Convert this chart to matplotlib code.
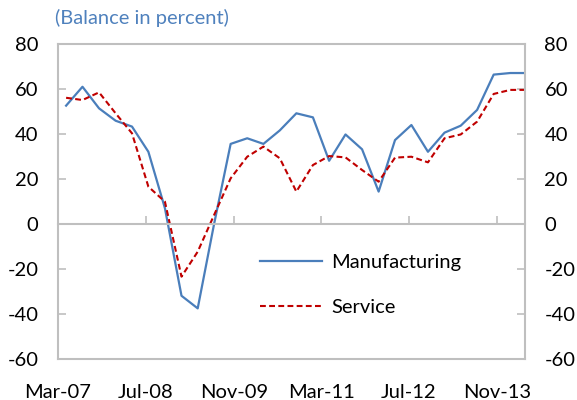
import numpy as np
import pandas as pd
import matplotlib as mpl
mpl.use('Agg')
import matplotlib.pyplot as plt
import matplotlib.dates as mdates

plt.rcParams['font.family'] = ['Lato', 'DejaVu Sans']
plt.rcParams['axes.unicode_minus'] = False

# quarterly survey balances, Mar-07 .. Mar-14
dates = pd.date_range('2007-03-15', periods=29, freq='3MS') + pd.Timedelta(days=14)
manufacturing = [52.6, 61.0, 51.4, 45.9, 43.3, 32.1, 7.0, -31.9, -37.5, 0.0,
                 35.6, 38.1, 35.6, 41.6, 49.2, 47.4, 28.1, 39.8, 33.2, 14.4,
                 37.3, 44.0, 32.1, 40.6, 43.7, 50.7, 66.4, 67.1, 67.1]
service = [56.1, 55.1, 58.5, 49.2, 40.3, 16.6, 9.9, -23.4, -12.3, 4.0,
           20.3, 29.9, 34.4, 29.2, 14.4, 26.2, 30.2, 29.6, 24.0, 18.8,
           29.5, 29.9, 27.4, 38.1, 39.8, 45.5, 57.8, 59.6, 59.6]

tick_dates = pd.to_datetime(['2007-03-01', '2008-07-01', '2009-11-01',
                             '2011-03-01', '2012-07-01', '2013-11-01'])
tick_labels = ['Mar-07', 'Jul-08', 'Nov-09', 'Mar-11', 'Jul-12', 'Nov-13']
yticks = [-60, -40, -20, 0, 20, 40, 60, 80]

grey = '#bfbfbf'
fs = 14.5

fig = plt.figure(figsize=(5.77, 4.0), dpi=100)
ax = fig.add_axes([58 / 577, 1 - 359 / 400, 467 / 577, 315 / 400])

xd = mdates.date2num(dates)
ax.plot(xd, manufacturing, color='#4a7ebb', lw=1.6, label='Manufacturing')
ax.plot(xd, service, color='#c00000', lw=1.5, ls=(0, (2.8, 1.6)), label='Service')

ax.set_xlim(mdates.date2num(pd.Timestamp('2007-03-01')),
            mdates.date2num(pd.Timestamp('2014-04-07')))
ax.set_ylim(-60, 80)
ax.set_yticks(yticks)
ax.tick_params(axis='y', direction='in', length=6, width=1.2, color=grey,
               left=True, right=True, labelleft=True, labelright=True,
               labelsize=fs, pad=14)

# zero line carries the tick marks, labels go along the bottom
tnum = mdates.date2num(tick_dates)
ax.spines['bottom'].set_position(('data', 0))
ax.set_xticks(tnum)
ax.tick_params(axis='x', direction='in', length=6, width=1.2, color=grey,
               labelbottom=False)
for s in ax.spines.values():
    s.set_color(grey)
    s.set_linewidth(1.5)

sec = ax.secondary_xaxis('bottom')
sec.set_xticks(tnum)
sec.set_xticklabels(tick_labels)
sec.tick_params(length=0, labelsize=fs, pad=18)
sec.spines['bottom'].set_color(grey)
sec.spines['bottom'].set_linewidth(1.5)

ax.legend(loc='center left', bbox_to_anchor=(0.4325, 0.236), frameon=False,
          fontsize=fs, handlelength=3.1, handletextpad=0.45, labelspacing=1.4,
          borderpad=0, borderaxespad=0)

fig.text(55 / 577, 1 - 18 / 400, '(Balance in percent)', color='#4f81bd',
         fontsize=fs, va='center', ha='left')

fig.savefig('out.png', dpi=100)
